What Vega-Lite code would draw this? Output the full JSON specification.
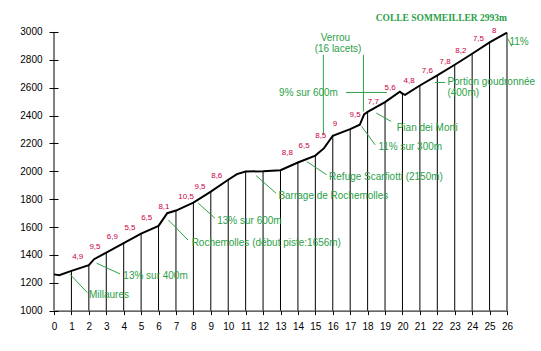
{
  "$schema": "https://vega.github.io/schema/vega-lite/v6.json",
  "autosize": "none",
  "width": 453,
  "height": 278.6,
  "padding": {"left": 54, "top": 32, "right": 34, "bottom": 40},
  "background": "white",
  "config": {
    "view": {"stroke": null},
    "font": "Liberation Sans",
    "axis": {"labelOverlap": false, "labelFlush": false, "grid": false, "title": null, "format": "d",
      "labelColor": "black", "tickColor": "black", "domainColor": "black", "labelFont": "Liberation Sans", "labelFontSize": 10}
  },
  "datasets": {
    "profile": [
      {"km": 0, "alt": 1260}, {"km": 0.3, "alt": 1254}, {"km": 1, "alt": 1285}, {"km": 2, "alt": 1326},
      {"km": 2.3, "alt": 1369}, {"km": 3, "alt": 1416}, {"km": 4, "alt": 1484}, {"km": 5, "alt": 1553},
      {"km": 6, "alt": 1608}, {"km": 6.5, "alt": 1699}, {"km": 7, "alt": 1718}, {"km": 8, "alt": 1775},
      {"km": 9, "alt": 1854}, {"km": 10, "alt": 1939}, {"km": 10.5, "alt": 1980}, {"km": 11, "alt": 1998},
      {"km": 12, "alt": 2001}, {"km": 13, "alt": 2008}, {"km": 14, "alt": 2063}, {"km": 15, "alt": 2113},
      {"km": 15.5, "alt": 2166}, {"km": 16, "alt": 2255}, {"km": 17, "alt": 2303}, {"km": 17.55, "alt": 2334},
      {"km": 17.8, "alt": 2408}, {"km": 18, "alt": 2427}, {"km": 19, "alt": 2497}, {"km": 19.85, "alt": 2572},
      {"km": 20, "alt": 2558}, {"km": 20.15, "alt": 2549}, {"km": 21, "alt": 2616}, {"km": 22, "alt": 2688},
      {"km": 23, "alt": 2765}, {"km": 24, "alt": 2844}, {"km": 25, "alt": 2925}, {"km": 26, "alt": 2995}
    ],
    "grades": [
      {"km": 1.36, "alt": 1387, "g": "4,9"}, {"km": 2.35, "alt": 1455, "g": "9,5"},
      {"km": 3.35, "alt": 1531, "g": "6,9"}, {"km": 4.36, "alt": 1596, "g": "5,5"},
      {"km": 5.32, "alt": 1663, "g": "6,5"}, {"km": 6.31, "alt": 1742, "g": "8,1"},
      {"km": 7.58, "alt": 1819, "g": "10,5"}, {"km": 8.38, "alt": 1890, "g": "9,5"},
      {"km": 9.34, "alt": 1967, "g": "8,6"}, {"km": 13.39, "alt": 2130, "g": "8,8"},
      {"km": 14.35, "alt": 2183, "g": "6,5"}, {"km": 15.31, "alt": 2255, "g": "8,5"},
      {"km": 16.13, "alt": 2341, "g": "9"}, {"km": 17.28, "alt": 2406, "g": "9,5"},
      {"km": 18.33, "alt": 2494, "g": "7,7"}, {"km": 19.29, "alt": 2595, "g": "5,6"},
      {"km": 20.38, "alt": 2645, "g": "4,8"}, {"km": 21.43, "alt": 2717, "g": "7,6"},
      {"km": 22.45, "alt": 2782, "g": "7,8"}, {"km": 23.35, "alt": 2861, "g": "8,2"},
      {"km": 24.36, "alt": 2950, "g": "7,5"}, {"km": 25.26, "alt": 3009, "g": "8"}
    ],
    "leaders": [
      {"km": 0.92, "alt": 1261, "km2": 1.91, "alt2": 1129},
      {"km": 2.45, "alt": 1340, "km2": 3.79, "alt2": 1263},
      {"km": 6.56, "alt": 1651, "km2": 7.69, "alt2": 1507},
      {"km": 8.28, "alt": 1771, "km2": 9.24, "alt2": 1663},
      {"km": 11.6, "alt": 1969, "km2": 12.74, "alt2": 1843},
      {"km": 14.51, "alt": 2070, "km2": 15.65, "alt2": 1975},
      {"km": 17.66, "alt": 2322, "km2": 18.43, "alt2": 2190},
      {"km": 18.5, "alt": 2418, "km2": 19.35, "alt2": 2358},
      {"km": 21.87, "alt": 2638, "km2": 22.45, "alt2": 2638},
      {"km": 26.02, "alt": 2957, "km2": 26.28, "alt2": 2897},
      {"km": 15.46, "alt": 2837, "km2": 15.46, "alt2": 2262},
      {"km": 17.76, "alt": 2837, "km2": 17.76, "alt2": 2429},
      {"km": 16.76, "alt": 2566, "km2": 19.1, "alt2": 2566}
    ],
    "notes": [
      {"km": 2.01, "alt": 1112, "t": "Millaures"},
      {"km": 3.98, "alt": 1249, "t": "13% sur 400m"},
      {"km": 7.9, "alt": 1484, "t": "Rochemolles (début piste:1656m)"},
      {"km": 9.37, "alt": 1644, "t": "13% sur 600m"},
      {"km": 12.88, "alt": 1824, "t": "Barrage de Rochemolles"},
      {"km": 15.79, "alt": 1962, "t": "Refuge Scarfiotti (2150m)"},
      {"km": 18.62, "alt": 2171, "t": "11% sur 300m"},
      {"km": 19.67, "alt": 2314, "t": "Pian dei Morti"},
      {"km": 22.58, "alt": 2638, "t": "Portion goudronnée"},
      {"km": 22.58, "alt": 2562, "t": "(400m)"},
      {"km": 26.14, "alt": 2928, "t": "11%"},
      {"km": 12.92, "alt": 2562, "t": "9% sur 600m"}
    ],
    "centered": [
      {"km": 16.15, "alt": 2955, "t": "Verrou"},
      {"km": 16.3, "alt": 2880, "t": "(16 lacets)"}
    ],
    "title": [
      {"km": 22.23, "alt": 3100, "t": "COLLE SOMMEILLER 2993m"}
    ],
    "yaxis": [
      {"km": 0, "alt": 1000, "alt2": 3000}
    ]
  },
  "encoding": {
    "x": {"field": "km", "type": "quantitative", "scale": {"domain": [0, 26], "nice": false, "zero": false},
      "axis": {"values": [0,1,2,3,4,5,6,7,8,9,10,11,12,13,14,15,16,17,18,19,20,21,22,23,24,25,26],
        "tickSize": 4, "labelPadding": 7, "labelOverlap": false}},
    "y": {"field": "alt", "type": "quantitative", "scale": {"domain": [1000, 3000], "nice": false, "zero": false},
      "axis": {"values": [1000,1200,1400,1600,1800,2000,2200,2400,2600,2800,3000],
        "domain": false, "offset": -4, "tickSize": 9, "labelPadding": 7, "labelOverlap": false}}
  },
  "layer": [
    {
      "data": {"name": "profile"},
      "transform": [{"filter": "datum.km % 1 == 0 && datum.km > 0"}],
      "mark": {"type": "rule", "color": "black", "strokeWidth": 1},
      "encoding": {"y2": {"datum": 1000}}
    },
    {
      "data": {"name": "yaxis"},
      "mark": {"type": "rule", "color": "black", "strokeWidth": 1},
      "encoding": {"y2": {"field": "alt2"}}
    },
    {
      "data": {"name": "leaders"},
      "mark": {"type": "rule", "color": "#2ca048", "strokeWidth": 1},
      "encoding": {"x2": {"field": "km2"}, "y2": {"field": "alt2"}}
    },
    {
      "data": {"name": "profile"},
      "mark": {"type": "line", "color": "black", "strokeWidth": 2, "clip": false},
      "encoding": {}
    },
    {
      "data": {"name": "grades"},
      "mark": {"type": "text", "color": "#cc0044", "fontSize": 8, "font": "Liberation Sans", "align": "center", "baseline": "middle"},
      "encoding": {"text": {"field": "g"}}
    },
    {
      "data": {"name": "notes"},
      "mark": {"type": "text", "color": "#2ca048", "fontSize": 10, "font": "Liberation Sans", "align": "left", "baseline": "middle"},
      "encoding": {"text": {"field": "t"}}
    },
    {
      "data": {"name": "centered"},
      "mark": {"type": "text", "color": "#2ca048", "fontSize": 10, "font": "Liberation Sans", "align": "center", "baseline": "middle"},
      "encoding": {"text": {"field": "t"}}
    },
    {
      "data": {"name": "title"},
      "mark": {"type": "text", "color": "#2ca048", "fontSize": 9.5, "font": "Liberation Serif", "fontWeight": "bold", "align": "center", "baseline": "middle"},
      "encoding": {"text": {"field": "t"}}
    }
  ]
}
